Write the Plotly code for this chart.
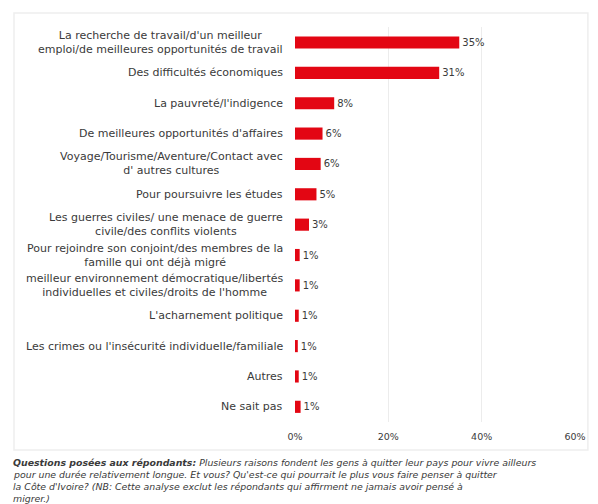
import plotly.graph_objects as go

categories = [
    "La recherche de travail/d'un meilleur<br>emploi/de meilleures opportunités de travail",
    "Des difficultés économiques",
    "La pauvreté/l'indigence",
    "De meilleures opportunités d'affaires",
    "Voyage/Tourisme/Aventure/Contact avec<br>d' autres cultures",
    "Pour poursuivre les études",
    "Les guerres civiles/ une menace de guerre<br>civile/des conflits violents",
    "Pour rejoindre son conjoint/des membres de la<br>famille qui ont déjà migré",
    "meilleur environnement démocratique/libertés<br>individuelles et civiles/droits de l'homme",
    "L'acharnement politique",
    "Les crimes ou l'insécurité individuelle/familiale",
    "Autres",
    "Ne sait pas",
]
values = [35.2, 30.9, 8.4, 5.9, 5.5, 4.6, 3.0, 1.0, 1.0, 0.8, 0.6, 0.8, 1.2]
value_labels = ["35%", "31%", "8%", "6%", "6%", "5%", "3%", "1%", "1%", "1%", "1%", "1%", "1%"]
x_ticks = [0, 20, 40, 60]
x_tick_labels = ["0%", "20%", "40%", "60%"]

footnote_lines = [
    "<b>Questions posées aux répondants:</b> Plusieurs raisons fondent les gens à quitter leur pays pour vivre ailleurs",
    "pour une durée relativement longue. Et vous? Qu'est-ce qui pourrait le plus vous faire penser à quitter",
    "la Côte d'Ivoire? (NB: Cette analyse exclut les répondants qui affirment ne jamais avoir pensé à",
    "migrer.)",
]

FONT = "DejaVu Sans"
TXT = "#3a3a3a"

fig = go.Figure(go.Bar(
    x=values, y=categories, orientation="h",
    marker=dict(color="#e30613", line=dict(width=0)),
    width=0.4,
    text=value_labels, textposition="outside", cliponaxis=False,
    textfont=dict(family=FONT, size=10, color=TXT),
))

annotations = []
for c in categories:
    annotations.append(dict(
        x=0, y=c, xref="x", yref="y", text=c, showarrow=False,
        xanchor="right", yanchor="middle", align="center", xshift=-10,
        font=dict(family=FONT, size=11, color=TXT),
    ))
for i, line in enumerate(footnote_lines):
    annotations.append(dict(
        x=0, y=0, xref="paper", yref="paper", xanchor="left", yanchor="middle",
        xshift=-284, yshift=-40 - 12 * i, text=f"<i>{line}</i>", showarrow=False, align="left",
        font=dict(family=FONT, size=9.4, color=TXT),
    ))

fig.update_layout(
    width=598, height=504,
    margin=dict(l=295, r=21, t=27, b=82),
    paper_bgcolor="white", plot_bgcolor="white",
    showlegend=False,
    bargap=0.6,
    xaxis=dict(range=[0, 60], tickvals=x_ticks, ticktext=x_tick_labels,
               showgrid=True, gridcolor="#ececec", gridwidth=1, zeroline=False,
               ticks="outside", ticklen=6, tickcolor="rgba(0,0,0,0)",
               tickfont=dict(family=FONT, size=9.5, color=TXT), fixedrange=True),
    yaxis=dict(autorange="reversed", showticklabels=False, showgrid=False,
               zeroline=False, fixedrange=True),
    annotations=annotations,
    shapes=[dict(type="rect", xref="paper", yref="paper", x0=-283/282, x1=1 + 13/282,
                 y0=-28/395, y1=1 + 14/395, line=dict(color="#eeeeee", width=1.5),
                 fillcolor="rgba(0,0,0,0)", layer="below")],
)

fig.write_html("out.html")
